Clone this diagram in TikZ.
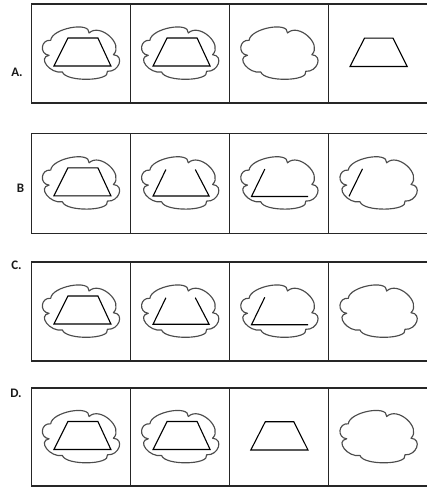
\documentclass[tikz,border=0pt]{standalone}
\usepackage{fontspec}
\setmainfont{Carlito}
\tikzset{
  cloudpic/.pic={\path[cloudline] (-30.2,-13.2) .. controls (-29.1,-25.1) and (9.3,-32.4) .. (8.2,-20.5)
     .. controls (19.07,-30.97) and (43.37,-9.27) .. (32.5,1.2)
     .. controls (44.1,2.13) and (38.1,18.73) .. (26.5,17.8)
     .. controls (29.83,28) and (-15.17,28.7) .. (-18.5,18.5)
     .. controls (-30.57,20.7) and (-43.87,4) .. (-31.8,1.8)
     .. controls (-41.8,0.73) and (-40.2,-14.27) .. (-30.2,-13.2) -- cycle;},
  trapcombo/.pic={\path[trapline] (-13,-15.5) -- (17,-15.5) -- (30,12.5) -- (-27,12.5) -- cycle;},
  trapalone/.pic={\path[trapline] (-14,-15.3) -- (14.5,-15.3) -- (28.7,13) -- (-28.5,13) -- cycle;},
  trapsides/.pic={\path[trapline] (-14.2,-13.8) -- (-27,12.7) -- (29,12.7) -- (15.2,-13.8);},
  trapleftbase/.pic={\path[trapline] (-14.5,-14.2) -- (-27.8,13.2) -- (28.8,13.2);},
  trapleft/.pic={\path[trapline] (-16,-14.5) -- (-29.5,13);},
}
\begin{document}
\begin{tikzpicture}[x=1pt,y=-1pt,
  cell/.style={draw=black!85,line width=1.1pt,minimum width=99.2pt,inner sep=0pt,outer sep=0pt},
  cloudline/.style={draw=black!70,line width=1.15pt,line join=round},
  trapline/.style={draw=black,line width=1.1pt,line join=miter},
  lbl/.style={font=\fontsize{13}{13}\selectfont\bfseries,inner sep=0pt,text=black!90}]
\useasboundingbox (0,0) rectangle (427,487);
% row A
\node[cell,minimum height=99pt] (a1) at (80.9,53.5) {};
\node[cell,minimum height=99pt] (a2) at (180.1,53.5) {};
\node[cell,minimum height=99pt] (a3) at (279.3,53.5) {};
\node[cell,minimum height=99pt] (a4) at (378.5,53.5) {};
\node[lbl] (la) at (17,72) {A.};
\pic at (a1.center) {cloudpic}; \pic at (a1.center) {trapcombo};
\pic at (a2.center) {cloudpic}; \pic at (a2.center) {trapcombo};
\pic at (a3.center) {cloudpic};
\pic at (a4.center) {trapalone};
% row B
\node[cell,minimum height=99.5pt] (b1) at (80.9,183.3) {};
\node[cell,minimum height=99.5pt] (b2) at (180.1,183.3) {};
\node[cell,minimum height=99.5pt] (b3) at (279.3,183.3) {};
\node[cell,minimum height=99.5pt] (b4) at (378.5,183.3) {};
\node[lbl] (lb) at (20.5,188) {B};
\pic at (b1.center) {cloudpic}; \pic at (b1.center) {trapcombo};
\pic at (b2.center) {cloudpic}; \pic at (b2.center) {trapsides};
\pic at (b3.center) {cloudpic}; \pic at (b3.center) {trapleftbase};
\pic at (b4.center) {cloudpic}; \pic at (b4.center) {trapleft};
% row C
\node[cell,minimum height=99pt] (c1) at (80.9,311.5) {};
\node[cell,minimum height=99pt] (c2) at (180.1,311.5) {};
\node[cell,minimum height=99pt] (c3) at (279.3,311.5) {};
\node[cell,minimum height=99pt] (c4) at (378.5,311.5) {};
\node[lbl] (lc) at (16.5,265) {C.};
\pic at (c1.center) {cloudpic}; \pic at (c1.center) {trapcombo};
\pic at (c2.center) {cloudpic}; \pic at (c2.center) {trapsides};
\pic at (c3.center) {cloudpic}; \pic at (c3.center) {trapleftbase};
\pic at (c4.center) {cloudpic};
% row D
\node[cell,minimum height=98pt] (d1) at (80.9,437) {};
\node[cell,minimum height=98pt] (d2) at (180.1,437) {};
\node[cell,minimum height=98pt] (d3) at (279.3,437) {};
\node[cell,minimum height=98pt] (d4) at (378.5,437) {};
\node[lbl] (ld) at (16,393) {D.};
\pic at (d1.center) {cloudpic}; \pic at (d1.center) {trapcombo};
\pic at (d2.center) {cloudpic}; \pic at (d2.center) {trapcombo};
\pic at (d3.center) {trapalone};
\pic at (d4.center) {cloudpic};
\end{tikzpicture}
\end{document}
